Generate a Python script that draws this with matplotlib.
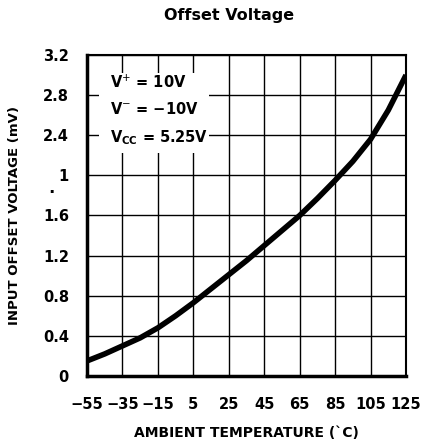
import matplotlib
matplotlib.use("Agg")
import matplotlib.pyplot as plt
from matplotlib.patches import Rectangle

# curve
temp_c = [-55, -45, -35, -25, -15, -5, 5, 15, 25, 35, 45, 55, 65, 75, 85, 95, 105, 115, 125]
offset_mv = [0.15, 0.22, 0.30, 0.38, 0.48, 0.60, 0.73, 0.87, 1.01, 1.15, 1.30, 1.45,
             1.60, 1.77, 1.95, 2.14, 2.36, 2.65, 3.0]

x_ticks = [-55, -35, -15, 5, 25, 45, 65, 85, 105, 125]
x_labels = ["\u221255", "\u221235", "\u221215", "5", "25", "45", "65", "85", "105", "125"]
y_ticks = [0, 0.4, 0.8, 1.2, 1.6, 2.0, 2.4, 2.8, 3.2]
y_labels = ["0", "0.4", "0.8", "1.2", "1.6", "1", "2.4", "2.8", "3.2"]

tick_font = dict(family="DejaVu Sans", weight="bold", size=10.5)

fig = plt.figure(figsize=(4.21, 4.46), dpi=100)
ax = fig.add_axes([0.2067, 0.157, 0.7577, 0.7197])

ax.set_xlim(-55, 125)
ax.set_ylim(0, 3.2)
ax.set_xticks(x_ticks)
ax.set_yticks(y_ticks)
ax.set_xticklabels(x_labels, **tick_font)
ax.set_yticklabels(y_labels, **tick_font)
ax.tick_params(axis="x", length=0, pad=15)
ax.tick_params(axis="y", length=0, pad=13)

ax.grid(True, color="black", linewidth=1.0)
for s in ax.spines.values():
    s.set_linewidth(1.5)
ax.spines["left"].set_linewidth(2.5)
ax.spines["bottom"].set_linewidth(2.5)

# white area behind the supply-voltage note hides the grid there
ax.add_patch(Rectangle((-48, 2.22), 62, 0.8, facecolor="white", edgecolor="none", zorder=2.5))

ax.plot(temp_c, offset_mv, color="black", linewidth=4, solid_capstyle="butt", zorder=3)

ax.text(-42, 2.28, "V$^{+}$ = 10V\nV$^{-}$ = \u221210V\nV$_{\\mathregular{CC}}$ = 5.25V",
        fontsize=10.5, fontweight="bold", family="DejaVu Sans", linespacing=1.8,
        va="bottom", ha="left", zorder=4)

ax.set_xlabel("AMBIENT TEMPERATURE (\u02cbC)", fontsize=10, fontweight="bold",
              family="DejaVu Sans", labelpad=10)
ax.set_ylabel("INPUT OFFSET VOLTAGE (mV)", fontsize=9.5, fontweight="bold",
              family="DejaVu Sans", labelpad=16)
fig.text(0.115, 0.567, ".", fontsize=12, fontweight="bold")

fig.suptitle("Offset Voltage", x=0.545, y=0.983, fontsize=11.5, fontweight="bold",
             family="DejaVu Sans")

fig.savefig("out.png", dpi=100)
